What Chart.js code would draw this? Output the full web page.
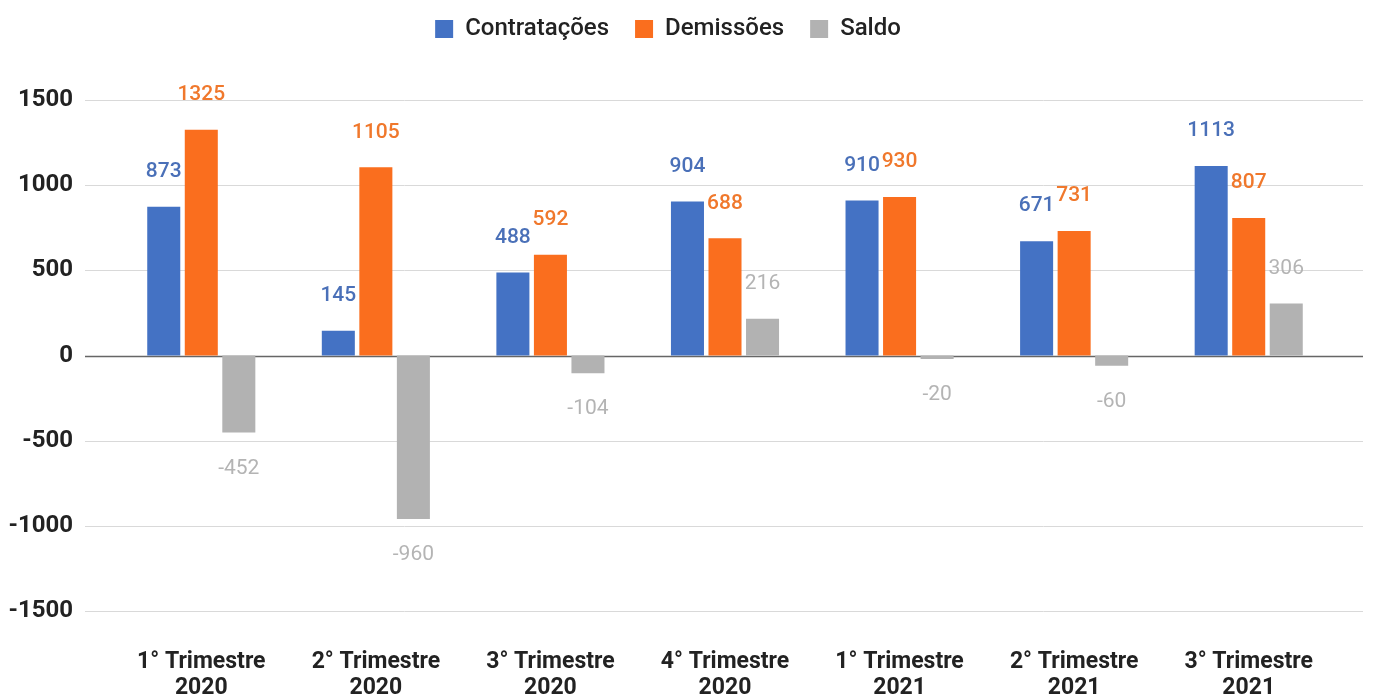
<!DOCTYPE html>
<html>
<head>
<meta charset="utf-8">
<script src="https://cdn.jsdelivr.net/npm/chart.js@4.4.0/dist/chart.umd.min.js"></script>
<style>
  html, body { margin: 0; padding: 0; background: #fff; }
  #wrap { width: 1373px; height: 698px; position: relative; }
</style>
</head>
<body>
<div id="wrap"><canvas id="barChart"></canvas></div>
<script>
// categories
var quarters = [
    ['1° Trimestre', '2020'], ['2° Trimestre', '2020'], ['3° Trimestre', '2020'], ['4° Trimestre', '2020'],
    ['1° Trimestre', '2021'], ['2° Trimestre', '2021'], ['3° Trimestre', '2021']
];
// series
var contratacoes = [873, 145, 488, 904, 910, 671, 1113];
var demissoes = [1325, 1105, 592, 688, 930, 731, 807];
var saldo = [-452, -960, -104, 216, -20, -60, 306];
// y axis
var yMin = -1500, yMax = 1500, yStep = 500;

var FONT = 'Roboto, "Liberation Sans", Arial, sans-serif';
var labelColors = ['#4a70b8', '#f0782c', '#b4b4b4'];

// extra room under the legend
var legendGap = {
    id: 'legendGap',
    beforeInit: function(chart) {
        var fit = chart.legend.fit;
        chart.legend.fit = function() {
            fit.bind(chart.legend)();
            this.height += 49;
        };
    }
};

// gridlines that run a bit past the plot area, like the original
var gridLines = {
    id: 'gridLines',
    beforeDatasetsDraw: function(chart) {
        var ctx = chart.ctx, area = chart.chartArea, y = chart.scales.y;
        ctx.save();
        y.ticks.forEach(function(t) {
            var py = Math.round(y.getPixelForValue(t.value)) + 0.5;
            ctx.beginPath();
            ctx.strokeStyle = t.value === 0 ? '#666666' : '#d9d9d9';
            ctx.lineWidth = t.value === 0 ? 1.5 : 1;
            ctx.moveTo(area.left - 29, py);
            ctx.lineTo(area.right + 27, py);
            ctx.stroke();
        });
        ctx.restore();
    }
};

// value labels above/below bars
var valueLabels = {
    id: 'valueLabels',
    afterDatasetsDraw: function(chart) {
        var ctx = chart.ctx;
        ctx.save();
        ctx.textAlign = 'center';
        ctx.textBaseline = 'middle';
        chart.data.datasets.forEach(function(ds, i) {
            var meta = chart.getDatasetMeta(i);
            ctx.fillStyle = labelColors[i];
            ctx.font = (i === 2 ? '400 ' : '500 ') + '21px ' + FONT;
            meta.data.forEach(function(bar, j) {
                var v = ds.data[j];
                var y = v >= 0 ? bar.y - 35 : bar.y + 36;
                ctx.fillText(String(v), bar.x, y);
            });
        });
        ctx.restore();
    }
};

var ctx = document.getElementById('barChart').getContext('2d');
var myChart = new Chart(ctx, {
    type: 'bar',
    data: {
        labels: quarters,
        datasets: [
            {
                label: 'Contratações',
                data: contratacoes,
                backgroundColor: '#4472c4'
            },
            {
                label: 'Demissões',
                data: demissoes,
                backgroundColor: '#fa6e1e'
            },
            {
                label: 'Saldo',
                data: saldo,
                backgroundColor: '#b2b2b2'
            }
        ]
    },
    options: {
        responsive: true,
        maintainAspectRatio: false,
        animation: false,
        categoryPercentage: 0.645,
        barPercentage: 0.88,
        layout: { padding: { top: -9, right: 37, left: 0, bottom: 0 } },
        plugins: {
            legend: {
                position: 'top',
                labels: {
                    boxWidth: 18,
                    boxHeight: 18,
                    padding: 26,
                    color: '#222222',
                    font: { family: FONT, size: 24, weight: '500' }
                }
            },
            tooltip: { enabled: false }
        },
        scales: {
            x: {
                grid: { display: false },
                border: { display: false },
                ticks: {
                    color: '#222222',
                    padding: 30,
                    maxRotation: 0,
                    font: { family: FONT, size: 23, weight: 'bold', lineHeight: 1.15 }
                },
                afterFit: function(s) { s.height = 87; }
            },
            y: {
                min: yMin,
                max: yMax,
                grid: { display: false },
                border: { display: false },
                ticks: {
                    stepSize: yStep,
                    color: '#222222',
                    padding: 33,
                    font: { family: FONT, size: 24, weight: 'bold' },
                    callback: function(v) { return String(v); }
                },
                afterFit: function(s) { s.width = 114; }
            }
        }
    },
    plugins: [legendGap, gridLines, valueLabels]
});
</script>
</body>
</html>
